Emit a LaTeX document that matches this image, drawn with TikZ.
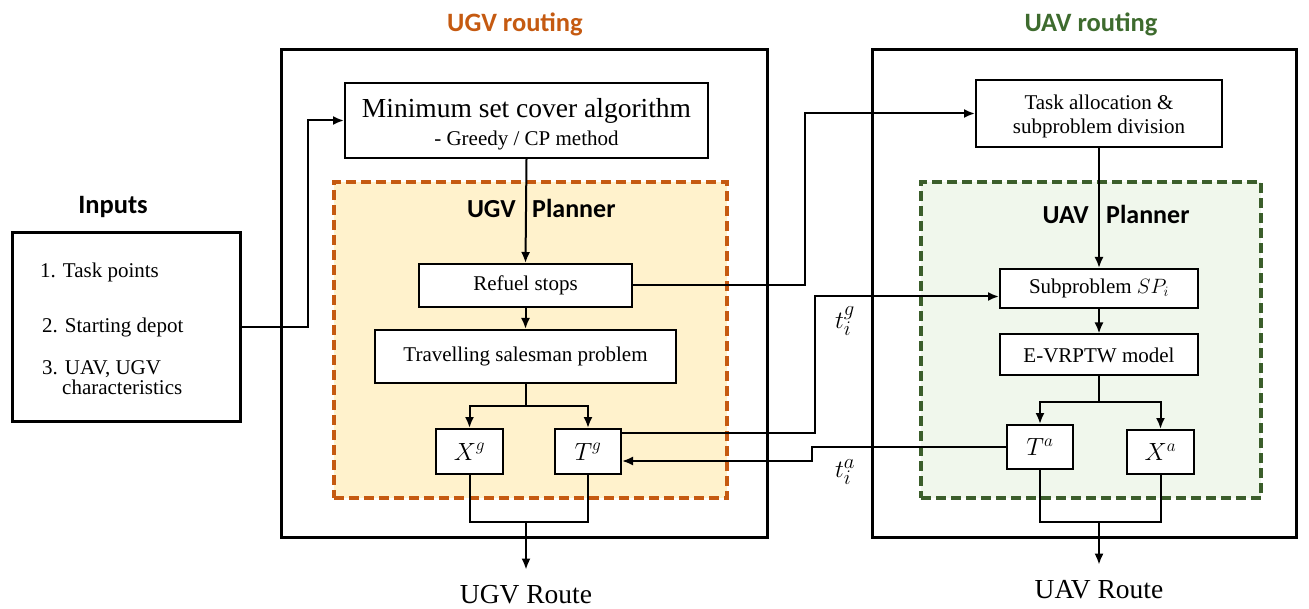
\documentclass[tikz,border=0pt]{standalone}
\usepackage{fontspec}
\setmainfont{Liberation Serif}
\newfontfamily\calib{Carlito}
\usetikzlibrary{arrows.meta}
\definecolor{ugvor}{HTML}{C55A11}
\definecolor{ugvfill}{HTML}{FFF2CC}
\definecolor{uavgr}{HTML}{3B5E2B}
\definecolor{uavtitle}{HTML}{3E6B2E}
\definecolor{uavfill}{HTML}{F0F7EC}
\newcommand{\fs}[1]{\fontsize{#1}{#1}\selectfont}
\begin{document}
\begin{tikzpicture}[x=1pt,y=-1pt,
  outerbox/.style={draw, line width=3pt, inner sep=0},
  box/.style={draw, line width=2pt, fill=white, inner sep=0, align=center, font=\fs{21}},
  mbox/.style={draw, line width=2pt, fill=white, inner sep=0, font=\fs{24}},
  ugvpl/.style={draw=ugvor, fill=ugvfill, line width=3.5pt, dash pattern=on 10pt off 5pt, inner sep=0},
  uavpl/.style={draw=uavgr, fill=uavfill, line width=3.5pt, dash pattern=on 10pt off 5pt, inner sep=0},
  title/.style={font=\calib\bfseries\fs{26.5}, inner sep=0},
  ptitle/.style={font=\calib\bfseries\fs{26}, inner sep=0},
  conn/.style={line width=2pt},
  arr/.style={conn, -{Latex[length=11pt,width=9pt]}},
  plain/.style={inner sep=0, font=\fs{21}},
  route/.style={inner sep=0, font=\fs{27.5}},
  tlab/.style={inner sep=0, font=\fs{30}}
]
\useasboundingbox (0,0) rectangle (1309,609);

% outer boxes
\node[outerbox, minimum width=486pt, minimum height=487pt] (ugvbox) at (524,293.5) {};
\node[outerbox, minimum width=424pt, minimum height=487pt] (uavbox) at (1084,293.5) {};
\node[outerbox, minimum width=228pt, minimum height=188pt] (inputs) at (126,327) {};

% planner areas
\node[ugvpl, minimum width=393pt, minimum height=316pt] (ugvplan) at (530.5,340) {};
\node[uavpl, minimum width=340pt, minimum height=316pt] (uavplan) at (1091,340) {};

% titles
\node[title, text=ugvor, anchor=base] (ugvt) at (515,32) {UGV routing};
\node[title, text=uavtitle, anchor=base] (uavt) at (1091,32) {UAV routing};
\node[title, anchor=base] (inpt) at (113,214) {Inputs};
\node[ptitle, anchor=base east] (ugvp1) at (516,218) {UGV};
\node[ptitle, anchor=base west] (ugvp2) at (532,218) {Planner};
\node[ptitle, anchor=base east] (uavp1) at (1089,224) {UAV};
\node[ptitle, anchor=base west] (uavp2) at (1106,224) {Planner};

% inputs list
\node[plain, anchor=base west] (in1) at (40,278) {1. Task points};
\node[plain, anchor=base west] (in2) at (42,333) {2. Starting depot};
\node[plain, anchor=base west] (in3) at (42,374) {3. UAV, UGV};
\node[plain, anchor=base west] (in4) at (62,395) {characteristics};

% UGV nodes
\node[box, minimum width=363pt, minimum height=75pt] (msc) at (526.5,120.5)
  {\rule{0pt}{27pt}{\fs{27.5}Minimum set cover algorithm}\\[7pt]{\fs{21}- Greedy / CP method}};
\node[box, minimum width=213pt, minimum height=43pt] (refuel) at (525.5,285.5) {Refuel stops};
\node[box, minimum width=301pt, minimum height=53pt] (tsp) at (525.5,356.5) {Travelling salesman problem};
\node[mbox, minimum width=67pt, minimum height=45pt] (Xg) at (469.5,451.5) {$X^g$};
\node[mbox, minimum width=66pt, minimum height=45pt] (Tg) at (588,451.5) {$T^g$};
\node[route, anchor=base] (ugvroute) at (526,603) {UGV Route};

% UAV nodes
\node[box, minimum width=246pt, minimum height=67pt] (task) at (1099,113.5)
  {\rule{0pt}{21pt}Task allocation \&\\[3pt]subproblem division};
\node[box, minimum width=198pt, minimum height=39pt] (sp) at (1099,288.5) {Subproblem $SP_i$};
\node[box, minimum width=198pt, minimum height=41pt] (evrp) at (1099,355) {E-VRPTW model};
\node[mbox, minimum width=66pt, minimum height=44pt] (Ta) at (1040,447) {$T^a$};
\node[mbox, minimum width=67pt, minimum height=44pt] (Xa) at (1160.5,452) {$X^a$};
\node[route, anchor=base] (uavroute) at (1099,598) {UAV Route};

% labels
\node[tlab] (tgl) at (845,321) {$t_i^g$};
\node[tlab] (tal) at (845,472) {$t_i^a$};

% coordinates
\coordinate (b1) at (525.5,406);
\coordinate (m1) at (526,522);
\coordinate (b2) at (1099,402);
\coordinate (m2) at (1099,522);

% connectors
\draw[arr] (inputs.east) -- ++(66,0) |- (msc.west);
\draw[arr] (msc.south) -- (refuel.north);
\draw[arr] (refuel.south) -- (tsp.north);
\draw[conn] (tsp.south) -- (b1);
\draw[arr] (b1) -| (Xg.north);
\draw[arr] (b1) -| (Tg.north);
\draw[conn] (Xg.south) |- (m1) -| (Tg.south);
\draw[arr] (m1) -- ([yshift=15pt]ugvroute.north);

\draw[arr] (refuel.east) -- ++(172,0) |- (task.west);
\draw[arr] ([yshift=-5pt]Tg.north east) -- ++(193,0) |- ([yshift=-8pt]sp.west);
\draw[arr] (Ta.west) -| ++(-194,14) -- ([yshift=-9.5pt]Tg.east);

\draw[arr] (task.south) -- (sp.north);
\draw[arr] (sp.south) -- (evrp.north);
\draw[conn] (evrp.south) -- (b2);
\draw[arr] (b2) -| (Ta.north);
\draw[arr] (b2) -| (Xa.north);
\draw[conn] (Ta.south) |- (m2) -| (Xa.south);
\draw[arr] (m2) -- ([yshift=15pt]uavroute.north);
\end{tikzpicture}
\end{document}
